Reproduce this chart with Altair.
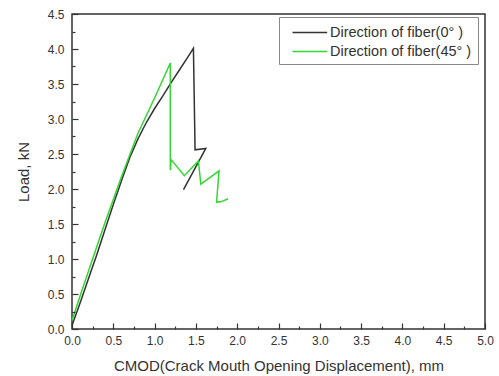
import altair as alt
import pandas as pd

# Series values
x0 = [0.0, 0.1, 0.2, 0.3, 0.4, 0.5, 0.6, 0.7, 0.8, 0.9, 1.0, 1.1, 1.2, 1.3, 1.4, 1.47, 1.49, 1.62, 1.35]
y0 = [0.05, 0.38, 0.72, 1.06, 1.42, 1.78, 2.12, 2.45, 2.72, 2.95, 3.15, 3.33, 3.52, 3.70, 3.88, 4.01, 2.56, 2.58, 1.99]
x45 = [0.0, 0.1, 0.2, 0.4, 0.6, 0.8, 1.0, 1.19, 1.19, 1.20, 1.36, 1.53, 1.56, 1.78, 1.75, 1.81, 1.89]
y45 = [0.12, 0.48, 0.83, 1.52, 2.18, 2.80, 3.30, 3.80, 2.27, 2.42, 2.19, 2.40, 2.07, 2.26, 1.81, 1.82, 1.86]
labels = ["Direction of fiber(0° )", "Direction of fiber(45° )"]
colors = ["#333333", "#33d633"]
x_ticks = [0.0, 0.25, 0.5, 0.75, 1.0, 1.25, 1.5, 1.75, 2.0, 2.25, 2.5, 2.75, 3.0, 3.25,
           3.5, 3.75, 4.0, 4.25, 4.5, 4.75, 5.0]
y_ticks = [0.0, 0.25, 0.5, 0.75, 1.0, 1.25, 1.5, 1.75, 2.0, 2.25, 2.5, 2.75, 3.0, 3.25,
           3.5, 3.75, 4.0, 4.25, 4.5]

W, H = 413, 315

rows = []
for i, (a, b) in enumerate(zip(x0, y0)):
    rows.append({"x": a, "y": b, "s": labels[0], "i": i})
for i, (a, b) in enumerate(zip(x45, y45)):
    rows.append({"x": a, "y": b, "s": labels[1], "i": i})
df = pd.DataFrame(rows)

xs = alt.Scale(domain=[0, 5], nice=False, zero=False)
ys = alt.Scale(domain=[0, 4.5], nice=False, zero=False)
font = "Liberation Sans"
xtitle = "CMOD(Crack Mouth Opening Displacement), mm"
ytitle = "Load, kN"

is_major = "abs(datum.value * 2 - round(datum.value * 2)) < 0.001"
tick_size = {"condition": {"test": is_major, "value": -6}, "value": -3}
label_expr = f"{is_major} ? format(datum.value, '.1f') : ''"

xaxis = alt.Axis(values=x_ticks, labelExpr=label_expr, tickSize=tick_size,
                 tickColor="#333", tickWidth=1.2, domain=False, grid=False, zindex=1,
                 labelFlush=False, labelFont=font, labelFontSize=12, labelColor="#333",
                 labelPadding=12, titleFont=font, titleFontSize=15, titleFontWeight="normal",
                 titleColor="#333", titlePadding=12)
yaxis = alt.Axis(values=y_ticks, labelExpr=label_expr, tickSize=tick_size,
                 tickColor="#333", tickWidth=1.2, domain=False, grid=False, zindex=1,
                 labelFlush=False, labelFont=font, labelFontSize=12, labelColor="#333",
                 labelPadding=14, titleFont=font, titleFontSize=15, titleFontWeight="normal",
                 titleColor="#333", titlePadding=16)

chart = alt.Chart(df).mark_line(strokeWidth=1.5).encode(
    x=alt.X("x:Q", scale=xs, axis=xaxis, title=xtitle),
    y=alt.Y("y:Q", scale=ys, axis=yaxis, title=ytitle),
    color=alt.Color("s:N", scale=alt.Scale(domain=labels, range=colors),
                    legend=alt.Legend(title=None, orient="none", legendX=207, legendY=3,
                                      strokeColor="#888", fillColor="white", padding=6,
                                      symbolType="M-3,0H1", symbolSize=300, symbolStrokeWidth=1.5,
                                      symbolOffset=24,
                                      labelFont=font, labelFontSize=14.5, labelColor="#333",
                                      rowPadding=3, labelOffset=2)),
    order="i:Q",
).properties(
    width=W, height=H,
    autosize=alt.AutoSizeParams(type="none"),
    padding={"left": 72, "top": 14, "right": 14, "bottom": 47},
    background="white",
).configure_view(stroke="#333", strokeWidth=1.5)

chart.save("out.html", embed_options={"renderer": "svg", "actions": False})
